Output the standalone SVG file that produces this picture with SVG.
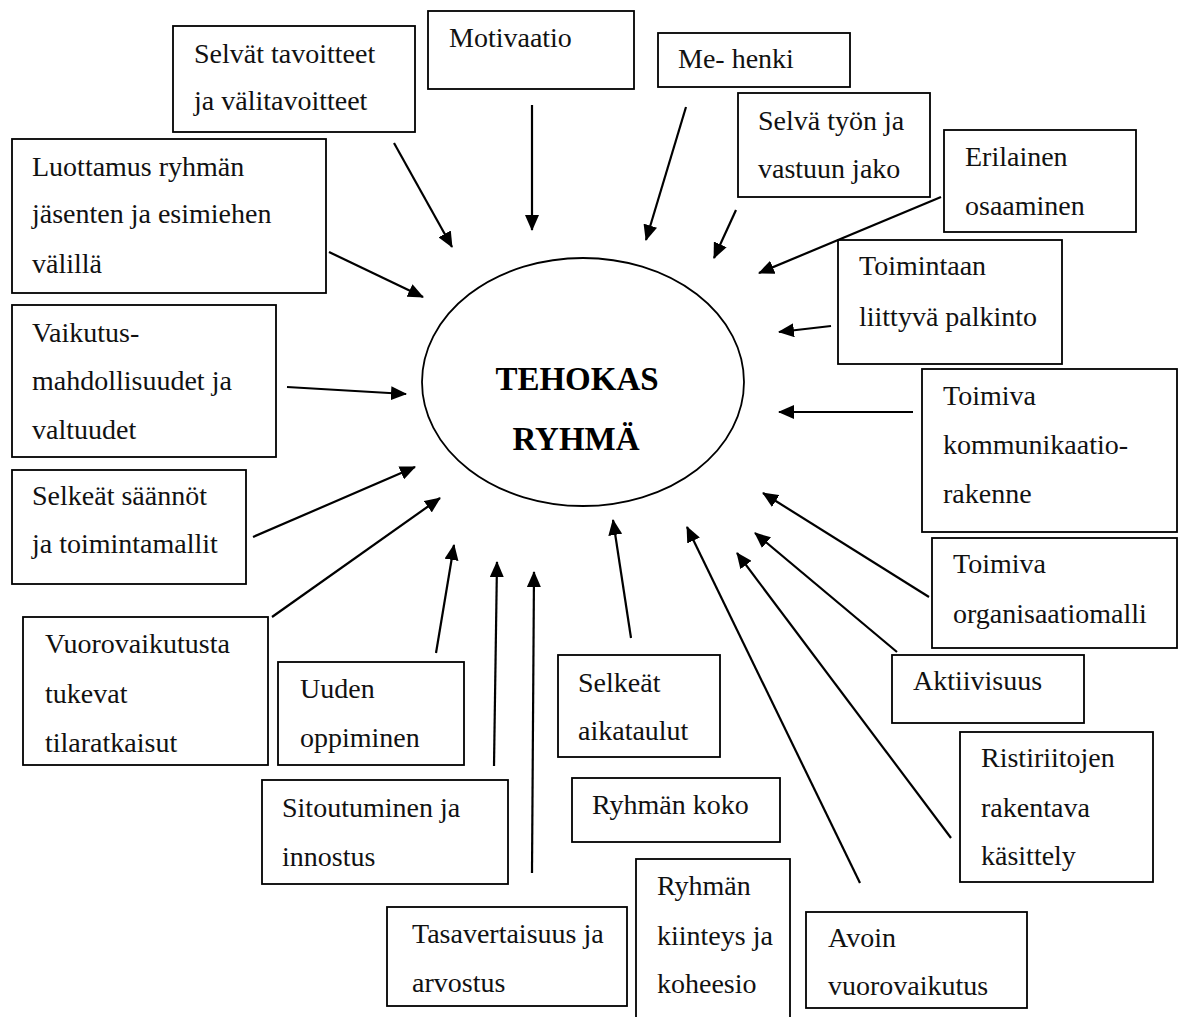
<svg xmlns="http://www.w3.org/2000/svg" width="1179" height="1017" viewBox="0 0 1179 1017">
<style>
.box{fill:#fff;stroke:#000;stroke-width:1.8}
.t{font-family:'Liberation Serif','DejaVu Serif',serif;font-size:28px;fill:#111}
.c{font-family:'Liberation Serif','DejaVu Serif',serif;font-size:33px;font-weight:bold;fill:#000;text-anchor:middle}
.ar{stroke:#000;stroke-width:2.2;fill:none;marker-end:url(#ah)}
</style>
<defs>
<marker id="ah" markerUnits="userSpaceOnUse" markerWidth="16" markerHeight="14" refX="15" refY="7" orient="auto">
<path d="M0,0 L16,7 L0,14 z" fill="#000"/>
</marker>
</defs>
<rect width="1179" height="1017" fill="#fff"/>
<g id="center">
<ellipse cx="583" cy="382" rx="161" ry="124" fill="#fff" stroke="#000" stroke-width="1.8"/>
<text class="c" x="577" y="390" font-family="Liberation Serif">TEHOKAS</text>
<text class="c" x="576" y="450" font-family="Liberation Serif">RYHMÄ</text>
</g>
<g id="n-selvat-tavoitteet"><rect class="box" x="173" y="26" width="242" height="106"/><text class="t" x="194" y="63">Selvät tavoitteet</text><text class="t" x="194" y="110">ja välitavoitteet</text></g>
<g id="n-motivaatio"><rect class="box" x="428" y="11" width="206" height="78"/><text class="t" x="449" y="47">Motivaatio</text></g>
<g id="n-mehenki"><rect class="box" x="658" y="33" width="192" height="54"/><text class="t" x="678" y="68">Me- henki</text></g>
<g id="n-selva-tyon"><rect class="box" x="738" y="93" width="192" height="104"/><text class="t" x="758" y="130">Selvä työn ja</text><text class="t" x="758" y="178">vastuun jako</text></g>
<g id="n-erilainen"><rect class="box" x="944" y="130" width="192" height="102"/><text class="t" x="965" y="166">Erilainen</text><text class="t" x="965" y="215">osaaminen</text></g>
<g id="n-luottamus"><rect class="box" x="12" y="139" width="314" height="154"/><text class="t" x="32" y="176">Luottamus ryhmän</text><text class="t" x="32" y="223">jäsenten ja esimiehen</text><text class="t" x="32" y="273">välillä</text></g>
<g id="n-toimintaan"><rect class="box" x="838" y="240" width="224" height="124"/><text class="t" x="859" y="275">Toimintaan</text><text class="t" x="859" y="326">liittyvä palkinto</text></g>
<g id="n-vaikutus"><rect class="box" x="12" y="305" width="264" height="152"/><text class="t" x="32" y="342">Vaikutus-</text><text class="t" x="32" y="390">mahdollisuudet ja</text><text class="t" x="32" y="439">valtuudet</text></g>
<g id="n-kommunikaatio"><rect class="box" x="922" y="369" width="255" height="163"/><text class="t" x="943" y="405">Toimiva</text><text class="t" x="943" y="454">kommunikaatio-</text><text class="t" x="943" y="503">rakenne</text></g>
<g id="n-saannot"><rect class="box" x="12" y="470" width="234" height="114"/><text class="t" x="32" y="505">Selkeät säännöt</text><text class="t" x="32" y="553">ja toimintamallit</text></g>
<g id="n-organisaatio"><rect class="box" x="932" y="538" width="245" height="110"/><text class="t" x="953" y="573">Toimiva</text><text class="t" x="953" y="623">organisaatiomalli</text></g>
<g id="n-vuorovaikutusta"><rect class="box" x="23" y="617" width="245" height="148"/><text class="t" x="45" y="653">Vuorovaikutusta</text><text class="t" x="45" y="703">tukevat</text><text class="t" x="45" y="752">tilaratkaisut</text></g>
<g id="n-uuden"><rect class="box" x="278" y="662" width="186" height="103"/><text class="t" x="300" y="698">Uuden</text><text class="t" x="300" y="747">oppiminen</text></g>
<g id="n-aikataulut"><rect class="box" x="558" y="655" width="162" height="102"/><text class="t" x="578" y="692">Selkeät</text><text class="t" x="578" y="740">aikataulut</text></g>
<g id="n-aktiivisuus"><rect class="box" x="892" y="655" width="192" height="68"/><text class="t" x="913" y="690">Aktiivisuus</text></g>
<g id="n-ristiriitojen"><rect class="box" x="960" y="732" width="193" height="150"/><text class="t" x="981" y="767">Ristiriitojen</text><text class="t" x="981" y="817">rakentava</text><text class="t" x="981" y="865">käsittely</text></g>
<g id="n-sitoutuminen"><rect class="box" x="262" y="780" width="246" height="104"/><text class="t" x="282" y="817">Sitoutuminen ja</text><text class="t" x="282" y="866">innostus</text></g>
<g id="n-koko"><rect class="box" x="572" y="778" width="208" height="64"/><text class="t" x="592" y="814">Ryhmän koko</text></g>
<g id="n-kiinteys"><rect class="box" x="636" y="859" width="154" height="180"/><text class="t" x="657" y="895">Ryhmän</text><text class="t" x="657" y="945">kiinteys ja</text><text class="t" x="657" y="993">koheesio</text></g>
<g id="n-tasavertaisuus"><rect class="box" x="387" y="907" width="240" height="99"/><text class="t" x="412" y="943">Tasavertaisuus ja</text><text class="t" x="412" y="992">arvostus</text></g>
<g id="n-avoin"><rect class="box" x="806" y="912" width="221" height="96"/><text class="t" x="828" y="947">Avoin</text><text class="t" x="828" y="995">vuorovaikutus</text></g>
<g id="connectors">
<line class="ar" x1="394" y1="143" x2="452" y2="247"/>
<line class="ar" x1="532" y1="105" x2="532" y2="230"/>
<line class="ar" x1="686" y1="107" x2="646" y2="240"/>
<line class="ar" x1="736" y1="210" x2="714" y2="258"/>
<line class="ar" x1="941" y1="197" x2="759" y2="273"/>
<line class="ar" x1="329" y1="252" x2="423" y2="297"/>
<line class="ar" x1="831" y1="326" x2="779" y2="332"/>
<line class="ar" x1="287" y1="387" x2="406" y2="394"/>
<line class="ar" x1="913" y1="412" x2="779" y2="412"/>
<line class="ar" x1="253" y1="537" x2="415" y2="467"/>
<line class="ar" x1="929" y1="597" x2="763" y2="493"/>
<line class="ar" x1="272" y1="617" x2="440" y2="498"/>
<line class="ar" x1="897" y1="652" x2="755" y2="533"/>
<line class="ar" x1="436" y1="653" x2="454" y2="545"/>
<line class="ar" x1="494" y1="766" x2="497" y2="562"/>
<line class="ar" x1="532" y1="873" x2="534" y2="572"/>
<line class="ar" x1="631" y1="638" x2="613" y2="520"/>
<line class="ar" x1="860" y1="883" x2="687" y2="527"/>
<line class="ar" x1="951" y1="838" x2="737" y2="553"/>
</g>
</svg>
